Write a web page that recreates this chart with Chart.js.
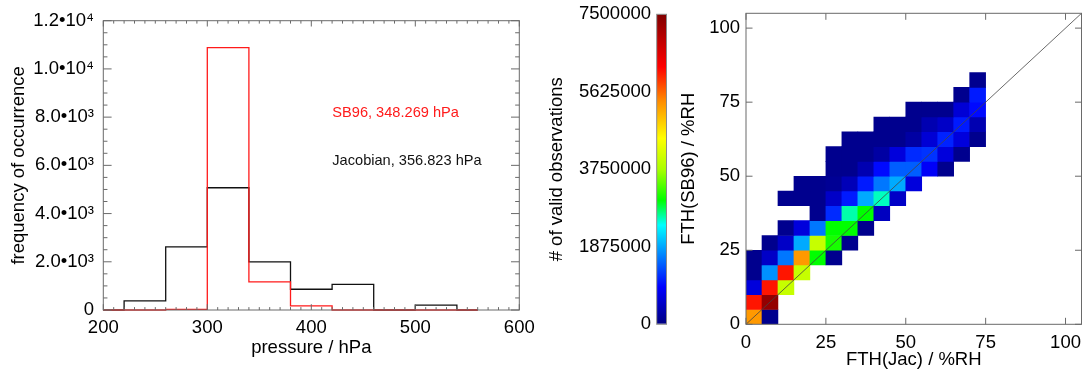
<!DOCTYPE html>
<html><head><meta charset="utf-8">
<script src="https://cdn.jsdelivr.net/npm/chart.js@4.4.1/dist/chart.umd.min.js"></script>
<style>
html,body{margin:0;padding:0;background:#fff;}
body{width:1084px;height:371px;position:relative;overflow:hidden;}
canvas{position:absolute;top:0;}
</style></head><body>
<canvas id="hist" width="540" height="371" style="left:0px"></canvas>
<canvas id="cbar" width="140" height="371" style="left:540px"></canvas>
<canvas id="heat" width="409" height="371" style="left:675px"></canvas>
<script>
// ---------------- data ----------------
const pressureCenters = [200, 240, 280, 320, 360, 400, 440, 480, 520, 560];
const countsJacobian  = [0, 375, 2615, 5070, 1995, 860, 1065, 0, 200, 0];
const countsSB96      = [0, 0, 30, 10880, 1165, 170, 0, 0, 0, 0];
const histXTicks = ['200', '300', '400', '500', '600'];
const histYTicks = ['0', '2.0•10³', '4.0•10³', '6.0•10³', '8.0•10³', '1.0•10⁴', '1.2•10⁴'];
const labelSB96 = 'SB96, 348.269 hPa';
const labelJac  = 'Jacobian, 356.823 hPa';

const colorbarTicks = ['0', '1875000', '3750000', '5625000', '7500000'];
const colorbarMax = 7500000;

const fthBinEdges = [0, 5, 10, 15, 20, 25, 30, 35, 40, 45, 50, 55, 60, 65, 70, 75, 80, 85];
const fthTicks = ['0', '25', '50', '75', '100'];
const _ = null;
// observations per cell, in millions; rows = FTH(SB96) bins (bottom up), columns = FTH(Jac) bins
const obsMillions = [
  [5.3, 0.1],
  [6.1, 7.3],
  [0.65, 6.1, 4.0],
  [0.1, 1.75, 6.1, 4.0],
  [0.1, 0.5, 1.6, 5.3, 3.0, 0.1],
  [_, 0.1, 0.5, 1.9, 4.0, 3.1, 0.1],
  [_, _, 0.1, 0.65, 1.6, 3.0, 3.0, 0.1],
  [_, _, _, _, 0.1, 1.15, 2.6, 3.0, 0.45],
  [_, _, 0.1, 0.1, 0.1, 0.5, 1.05, 1.9, 2.55, 0.5],
  [_, _, _, 0.1, 0.1, 0.15, 0.4, 1.05, 1.6, 1.9, 0.65],
  [_, _, _, _, _, 0.1, 0.1, 0.35, 0.95, 1.45, 1.45, 0.85, 0.1],
  [_, _, _, _, _, 0.1, 0.1, 0.1, 0.25, 0.65, 1.15, 1.2, 0.65, 0.1],
  [_, _, _, _, _, _, 0.1, 0.1, 0.1, 0.1, 0.25, 0.6, 1.1, 0.65, 0.1],
  [_, _, _, _, _, _, _, _, 0.1, 0.1, 0.1, 0.35, 0.5, 1.05, 0.35],
  [_, _, _, _, _, _, _, _, _, _, 0.1, 0.1, 0.1, 0.6, 0.95],
  [_, _, _, _, _, _, _, _, _, _, _, _, _, 0.1, 1.05],
  [_, _, _, _, _, _, _, _, _, _, _, _, _, _, 0.1]
];

// ---------------- styling ----------------
const FONT = "'Liberation Sans', Arial, Helvetica, sans-serif";
Chart.defaults.font.family = FONT;
Chart.defaults.font.size = 18.5;
Chart.defaults.color = '#000';
Chart.defaults.animation = false;
Chart.defaults.responsive = false;
Chart.defaults.devicePixelRatio = 1;
Chart.defaults.events = [];
Chart.defaults.plugins.legend.display = false;
Chart.defaults.plugins.tooltip.enabled = false;

const cmapStops = [
  [0.00, 0, 0, 128], [0.12, 0, 0, 255], [0.32, 0, 255, 255], [0.40, 0, 255, 0],
  [0.50, 170, 255, 0], [0.60, 255, 255, 0], [0.72, 255, 140, 0], [0.83, 255, 0, 0], [1.00, 128, 0, 0]
];
function cmapColor(f) {
  f = Math.max(0, Math.min(1, f));
  for (let i = 1; i < cmapStops.length; i++) {
    const a = cmapStops[i - 1], b = cmapStops[i];
    if (f <= b[0]) {
      const t = (f - a[0]) / (b[0] - a[0]);
      const c = [1, 2, 3].map(k => Math.round(a[k] + (b[k] - a[k]) * t));
      return `rgb(${c[0]},${c[1]},${c[2]})`;
    }
  }
  return 'rgb(128,0,0)';
}

// frame + inward IDL-style tick marks
const idlFrame = {
  id: 'idlFrame',
  afterDraw(chart, args, o) {
    const {ctx, chartArea: a} = chart;
    const xs = chart.scales.x, ys = chart.scales.y;
    ctx.save();
    ctx.strokeStyle = o.color || '#666';
    ctx.lineWidth = 1;
    ctx.beginPath();
    if (o.xMinor) {
      const n = Math.floor((xs.max - xs.min) / o.xMinor + 1e-6), r = Math.round(o.xMajor / o.xMinor);
      for (let k = 0; k <= n; k++) {
        const v = xs.min + k * o.xMinor, p = xs.getPixelForValue(v);
        const L = (Math.round(v / o.xMinor) % r === 0) ? o.xLen : o.xLen / 2;
        ctx.moveTo(p, a.bottom); ctx.lineTo(p, a.bottom - L);
        ctx.moveTo(p, a.top); ctx.lineTo(p, a.top + L);
      }
    }
    if (o.yMinor) {
      const n = Math.floor((ys.max - ys.min) / o.yMinor + 1e-6), r = Math.round(o.yMajor / o.yMinor);
      for (let k = 0; k <= n; k++) {
        const v = ys.min + k * o.yMinor, p = ys.getPixelForValue(v);
        const L = (Math.round(v / o.yMinor) % r === 0) ? o.yLen : o.yLen / 2;
        ctx.moveTo(a.left, p); ctx.lineTo(a.left + L, p);
        ctx.moveTo(a.right, p); ctx.lineTo(a.right - L, p);
      }
    }
    ctx.stroke();
    ctx.strokeRect(a.left, a.top, a.right - a.left, a.bottom - a.top);
    ctx.restore();
  }
};

const histText = {
  id: 'histText',
  afterDraw(chart) {
    const {ctx} = chart, xs = chart.scales.x, ys = chart.scales.y;
    ctx.save();
    ctx.font = '14.6px ' + FONT;
    ctx.textAlign = 'left';
    ctx.textBaseline = 'middle';
    ctx.fillStyle = '#ff1a1a';
    ctx.fillText(labelSB96, xs.getPixelForValue(420.2), ys.getPixelForValue(8180));
    ctx.fillStyle = '#111';
    ctx.fillText(labelJac, xs.getPixelForValue(420.2), ys.getPixelForValue(6180));
    ctx.restore();
  }
};

// ---------------- histogram ----------------
new Chart(document.getElementById('hist'), {
  type: 'line',
  data: {
    datasets: [
      { data: pressureCenters.map((p, i) => ({x: p, y: countsSB96[i]})), borderColor: '#ff1a1a',
        borderWidth: 1.3, stepped: 'middle', pointRadius: 0, order: 0, clip: false },
      { data: pressureCenters.map((p, i) => ({x: p, y: countsJacobian[i]})), borderColor: '#111',
        borderWidth: 1.3, stepped: 'middle', pointRadius: 0, order: 1, clip: false }
    ]
  },
  options: {
    layout: {padding: {left: 0, right: 20.7, top: 20.7, bottom: 0}},
    scales: {
      x: {
        type: 'linear', min: 200, max: 600,
        grid: {display: false, drawTicks: false}, border: {display: false},
        ticks: {stepSize: 100, padding: 7.2, maxRotation: 0, autoSkip: false, callback: (v, i) => histXTicks[i]},
        title: {display: true, text: 'pressure / hPa', padding: {top: 0, bottom: 11.7}},
        afterFit: s => { s.height = 61; s.paddingLeft = 0; s.paddingRight = 0; }
      },
      y: {
        type: 'linear', min: 0, max: 12000,
        grid: {display: false, drawTicks: false}, border: {display: false},
        ticks: {stepSize: 2000, padding: 9.3, autoSkip: false, callback: (v, i) => histYTicks[i]},
        title: {display: true, text: 'frequency of occurrence', padding: {top: 7.4, bottom: 0}},
        afterFit: s => { s.width = 103.3; s.paddingTop = 0; s.paddingBottom = 0; }
      }
    },
    plugins: {
      idlFrame: {color: '#6a6a6a', xMajor: 100, xMinor: 10, xLen: 5.8, yMajor: 2000, yMinor: 500, yLen: 8.3}
    }
  },
  plugins: [idlFrame, histText]
});

// ---------------- colour bar ----------------
new Chart(document.getElementById('cbar'), {
  type: 'bar',
  data: {
    labels: ['obs'],
    datasets: [{
      data: [[0, colorbarMax]],
      backgroundColor: c => {
        const ch = c.chart, ys = ch.scales.y;
        if (!ch.chartArea || !ys) return '#000080';
        const g = ch.ctx.createLinearGradient(0, ys.getPixelForValue(0), 0, ys.getPixelForValue(colorbarMax));
        cmapStops.forEach(s => g.addColorStop(s[0], `rgb(${s[1]},${s[2]},${s[3]})`));
        return g;
      },
      borderWidth: 0, inflateAmount: 0, barPercentage: 1, categoryPercentage: 1
    }]
  },
  options: {
    layout: {padding: {left: 0, right: 13.5, top: 14.3, bottom: 46.7}},
    scales: {
      x: {display: false},
      y: {
        type: 'linear', min: 0, max: colorbarMax, z: 1,
        border: {display: false},
        grid: {drawTicks: false, lineWidth: 1,
               color: c => (c.tick && c.tick.value > 0 && c.tick.value < colorbarMax) ? 'rgba(30,30,30,0.75)' : 'rgba(0,0,0,0)'},
        ticks: {stepSize: 1875000, padding: 5.7, autoSkip: false, callback: (v, i) => colorbarTicks[i]},
        title: {display: true, text: '# of valid observations', padding: {top: 5.6, bottom: 0}},
        afterFit: s => { s.width = 116.7; s.paddingTop = 0; s.paddingBottom = 0; }
      }
    },
    plugins: {idlFrame: {color: '#8a8a8a'}}
  },
  plugins: [idlFrame]
});

// ---------------- 2D histogram ----------------
const cells = [];
obsMillions.forEach((row, j) => row.forEach((v, i) => {
  if (v !== null) cells.push({x: (fthBinEdges[i] + fthBinEdges[i + 1]) / 2, y: [fthBinEdges[j], fthBinEdges[j + 1]], v: v});
}));

new Chart(document.getElementById('heat'), {
  type: 'bar',
  data: {
    datasets: [
      { type: 'line', data: [{x: 0, y: 0}, {x: 105, y: 105}], borderColor: '#444', borderWidth: 0.8,
        pointRadius: 0, order: 0 },
      { type: 'bar', data: cells,
        backgroundColor: c => (c.raw && c.raw.v != null) ? cmapColor(c.raw.v * 1e6 / colorbarMax) : '#000080',
        borderWidth: 0, inflateAmount: 0.3, barPercentage: 1, categoryPercentage: 1, order: 1 }
    ]
  },
  options: {
    layout: {padding: {left: 0, right: 2.5, top: 13.3, bottom: 0}},
    scales: {
      x: {
        type: 'linear', min: 0, max: 105, offset: false,
        grid: {display: false, offset: false, drawTicks: false}, border: {display: false},
        ticks: {stepSize: 25, includeBounds: false, padding: 7.9, maxRotation: 0, autoSkip: false, callback: (v, i) => fthTicks[i]},
        title: {display: true, text: 'FTH(Jac) / %RH', padding: {top: 0, bottom: 0}},
        afterFit: s => { s.height = 46.7; s.paddingLeft = 0; s.paddingRight = 0; }
      },
      y: {
        type: 'linear', min: 0, max: 105,
        grid: {display: false, drawTicks: false}, border: {display: false},
        ticks: {stepSize: 25, includeBounds: false, padding: 6, autoSkip: false, callback: (v, i) => fthTicks[i]},
        title: {display: true, text: 'FTH(SB96) / %RH', padding: {top: 2.9, bottom: 0}},
        afterFit: s => { s.width = 71; s.paddingTop = 0; s.paddingBottom = 0; }
      }
    },
    plugins: {idlFrame: {color: '#6a6a6a', xMajor: 25, xMinor: 25, xLen: 6.5, yMajor: 25, yMinor: 25, yLen: 6.5}}
  },
  plugins: [idlFrame]
});
</script>
</body></html>
